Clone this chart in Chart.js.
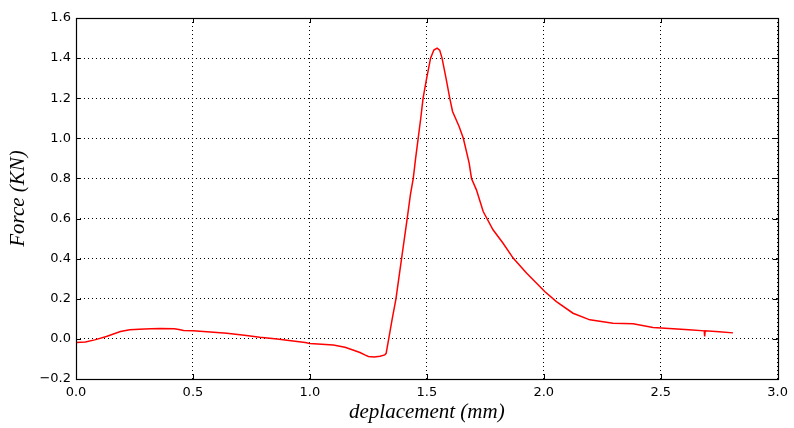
<!DOCTYPE html>
<html>
<head>
<meta charset="utf-8">
<script src="https://cdn.jsdelivr.net/npm/chart.js@4.4.1/dist/chart.umd.min.js"></script>
<style>
html,body{margin:0;padding:0;background:#fff;}
#wrap{width:794px;height:428px;position:relative;}
</style>
</head>
<body>
<div id="wrap"><canvas id="c" width="794" height="428"></canvas></div>
<script>
// Data
const displacement = [
  0.000, 0.040, 0.080, 0.130, 0.190, 0.230, 0.270, 0.320, 0.360, 0.420,
  0.440, 0.460, 0.500, 0.560, 0.645, 0.720, 0.786, 0.860, 0.928, 0.980,
  1.000, 1.050, 1.100, 1.150, 1.190, 1.214, 1.235, 1.250, 1.275, 1.300,
  1.320, 1.326, 1.337, 1.352, 1.368, 1.380, 1.392, 1.404, 1.416, 1.430,
  1.442, 1.452, 1.463, 1.474, 1.484, 1.498, 1.516, 1.530, 1.544, 1.555,
  1.565, 1.582, 1.598, 1.610, 1.638, 1.656, 1.681, 1.691, 1.712, 1.741,
  1.783, 1.826, 1.869, 1.926, 1.983, 2.004, 2.054, 2.125, 2.197, 2.296,
  2.382, 2.467, 2.553, 2.620, 2.686, 2.688, 2.690, 2.750, 2.809
];
const force = [
  -0.018, -0.015, -0.005, 0.012, 0.037, 0.045, 0.048, 0.051, 0.052, 0.051,
  0.047, 0.042, 0.040, 0.036, 0.028, 0.018, 0.008, 0.000, -0.010, -0.018,
  -0.023, -0.027, -0.030, -0.042, -0.058, -0.068, -0.080, -0.088, -0.090, -0.087,
  -0.080, -0.072, 0.000, 0.100, 0.200, 0.300, 0.400, 0.500, 0.600, 0.720,
  0.800, 0.900, 1.000, 1.100, 1.200, 1.292, 1.400, 1.440, 1.450, 1.440,
  1.400, 1.300, 1.200, 1.134, 1.059, 1.000, 0.876, 0.800, 0.743, 0.635,
  0.544, 0.477, 0.403, 0.328, 0.261, 0.236, 0.186, 0.128, 0.095, 0.078,
  0.075, 0.057, 0.050, 0.046, 0.040, 0.012, 0.040, 0.036, 0.030
];
const xTicks = [0.0, 0.5, 1.0, 1.5, 2.0, 2.5, 3.0];
const yTicks = [-0.2, 0.0, 0.2, 0.4, 0.6, 0.8, 1.0, 1.2, 1.4, 1.6];
const xTitle = 'deplacement (mm)';
const yTitle = 'Force (KN)';

const points = displacement.map((x, i) => ({x: x, y: force[i]}));

function fmt(v) {
  const s = Math.abs(v).toFixed(1);
  return v < -1e-9 ? '\u2212' + s : s;
}

const frameTicks = {
  id: 'frameTicks',
  afterDraw(chart) {
    const {ctx, chartArea: a, scales} = chart;
    ctx.save();
    ctx.strokeStyle = '#000';
    ctx.lineWidth = 1;
    const L = 5;
    ctx.beginPath();
    scales.x.ticks.forEach(t => {
      const px = Math.round(scales.x.getPixelForValue(t.value)) + 0.5;
      ctx.moveTo(px, a.bottom); ctx.lineTo(px, a.bottom - L);
      ctx.moveTo(px, a.top); ctx.lineTo(px, a.top + L);
    });
    scales.y.ticks.forEach(t => {
      const py = Math.round(scales.y.getPixelForValue(t.value)) + 0.5;
      ctx.moveTo(a.left, py); ctx.lineTo(a.left + L, py);
      ctx.moveTo(a.right, py); ctx.lineTo(a.right - L, py);
    });
    ctx.stroke();
    ctx.lineWidth = 1.2;
    ctx.strokeRect(Math.round(a.left) + 0.5, Math.round(a.top) + 0.5,
      Math.round(a.right - a.left), Math.round(a.bottom - a.top));
    ctx.restore();
  }
};

new Chart(document.getElementById('c'), {
  type: 'scatter',
  data: {
    datasets: [{
      data: points,
      showLine: true,
      borderColor: '#ff0000',
      backgroundColor: '#ff0000',
      borderWidth: 1.5,
      pointRadius: 0,
      tension: 0
    }]
  },
  options: {
    responsive: false,
    animation: false,
    events: [],
    layout: {padding: {top: 18, right: 16, left: 0, bottom: 0}},
    plugins: {legend: {display: false}, tooltip: {enabled: false}},
    scales: {
      x: {
        type: 'linear', min: 0, max: 3,
        afterBuildTicks(s) { s.ticks = xTicks.map(v => ({value: v})); },
        afterFit(s) { s.height = 49; },
        grid: {color: '#000', lineWidth: 1, drawTicks: false, drawOnChartArea: true},
        border: {display: false, dash: [1, 3]},
        ticks: {
          padding: 6, color: '#000', maxRotation: 0,
          font: {family: 'DejaVu Sans', size: 13},
          callback: v => fmt(v)
        },
        title: {
          display: true, text: xTitle, color: '#000',
          font: {family: 'Liberation Serif', style: 'italic', size: 21},
          padding: {top: 0, bottom: 3}
        }
      },
      y: {
        type: 'linear', min: -0.2, max: 1.6,
        afterBuildTicks(s) { s.ticks = yTicks.map(v => ({value: v})); },
        afterFit(s) { s.width = 76; },
        grid: {color: '#000', lineWidth: 1, drawTicks: false},
        border: {display: false, dash: [1, 3]},
        ticks: {
          padding: 5, color: '#000',
          font: {family: 'DejaVu Sans', size: 13},
          callback: v => fmt(v)
        },
        title: {
          display: true, text: yTitle, color: '#000',
          font: {family: 'Liberation Serif', style: 'italic', size: 21},
          padding: {top: 6, bottom: 0}
        }
      }
    }
  },
  plugins: [frameTicks]
});
</script>
</body>
</html>
